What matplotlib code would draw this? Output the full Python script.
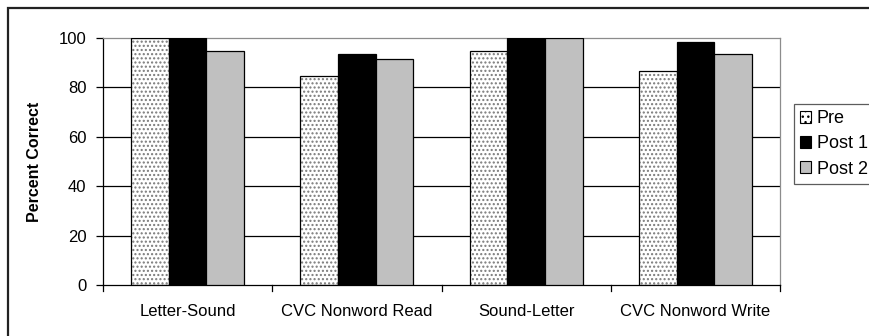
import numpy as np
import matplotlib.pyplot as plt
from matplotlib.patches import Rectangle, Patch

plt.rcParams["font.family"] = ["Liberation Sans", "DejaVu Sans"]

# ── Data ──────────────────────────────────────────────────────────────
categories = ["Letter-Sound", "CVC Nonword Read", "Sound-Letter", "CVC Nonword Write"]
pre   = [100.0, 84.7, 94.6, 86.5]
post1 = [100.0, 93.6, 100.0, 98.2]
post2 = [94.7, 91.5, 100.0, 93.5]
series_names = ["Pre", "Post 1", "Post 2"]
y_ticks = [0, 20, 40, 60, 80, 100]

# ── Figure ────────────────────────────────────────────────────────────
fig = plt.figure(figsize=(8.69, 3.36), dpi=100)
ax = fig.add_axes([103 / 869, 1 - 285 / 336, 677 / 869, 247 / 336])

x = np.arange(len(categories))
w = 1 / 4.5  # Excel-style 150% gap width

# gridlines at 20..80 in black, top edge gray
for yv in y_ticks[1:-1]:
    ax.axhline(yv, color="black", lw=0.9, zorder=1)

# Pre: gray dot hatch, then a black outline on top
ax.bar(x - w, pre, w, color="white", edgecolor="#7a7a7a", hatch="....",
       linewidth=0, zorder=2)
ax.bar(x - w, pre, w, fill=False, edgecolor="black", linewidth=0.9, zorder=3)
ax.bar(x, post1, w, color="black", edgecolor="black", linewidth=0.9, zorder=3)
ax.bar(x + w, post2, w, color="#c0c0c0", edgecolor="black", linewidth=0.9, zorder=3)

ax.set_xlim(-0.5, len(categories) - 0.5)
ax.set_ylim(0, 100)

ax.set_yticks(y_ticks)
ax.set_yticklabels([str(v) for v in y_ticks], fontsize=12)
ax.set_xticks(x)
ax.set_xticklabels(categories, fontsize=12)
ax.tick_params(axis="x", length=0, pad=14)
ax.tick_params(axis="y", direction="out", length=5, width=0.9, pad=7)

# category boundary ticks on the x axis
for b in np.arange(-0.5, len(categories), 1.0):
    ax.plot([b, b], [0, -2.5], color="black", lw=0.9, clip_on=False, zorder=4)

for side in ["top", "right"]:
    ax.spines[side].set_color("#8c8c8c")
    ax.spines[side].set_linewidth(0.9)
for side in ["left", "bottom"]:
    ax.spines[side].set_color("black")
    ax.spines[side].set_linewidth(0.9)

ax.set_ylabel("Percent Correct", fontsize=11.5, fontweight="bold", labelpad=12)

# legend
handles = [
    Patch(facecolor="white", edgecolor="black", hatch="...", linewidth=0.8),
    Patch(facecolor="black", edgecolor="black", linewidth=0.8),
    Patch(facecolor="#c0c0c0", edgecolor="black", linewidth=0.8),
]
leg = fig.legend(handles, series_names, loc="upper left",
                 bbox_to_anchor=(794 / 869, 1 - 104 / 336), fontsize=13,
                 frameon=True, fancybox=False, borderpad=0.35, labelspacing=0.45,
                 handlelength=0.6, handleheight=0.6, handletextpad=0.3,
                 borderaxespad=0)
leg.get_frame().set_edgecolor("#333333")
leg.get_frame().set_linewidth(0.9)

# outer chart frame (extends past the right and bottom edges)
fig.patches.append(Rectangle((8 / 869, -0.05), 1.0, 1 - 8 / 336 + 0.05,
                             transform=fig.transFigure, fill=False,
                             edgecolor="#222222", linewidth=1.6))

fig.savefig("out.png", dpi=100)
